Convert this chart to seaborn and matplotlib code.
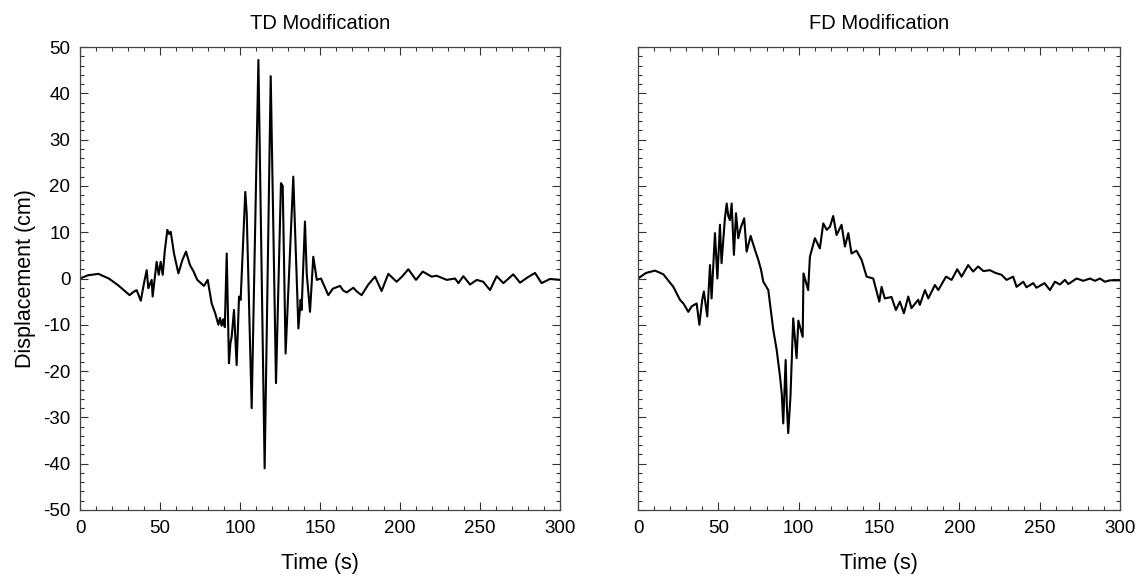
import numpy as np
import pandas as pd
import matplotlib
matplotlib.use("Agg")
import matplotlib.pyplot as plt
import seaborn as sns
from matplotlib.ticker import MultipleLocator

# ---- data ----
td_time = [0, 5, 11.5, 18, 24, 31, 33, 35.4, 38, 40, 41.7, 42.7, 44.8, 45.4, 47.9, 49.2, 50.4,
           51.7, 53, 54.6, 55.8, 56.7, 58.75, 61.5, 64, 66.25, 68.75, 71, 73.3, 77.5, 79.8,
           82.3, 84.5, 86.5, 87.5, 88.5, 89.5, 90.5, 91.7, 93.1, 94, 94.8, 96.25, 97.9, 99.4,
           100.4, 103.3, 104.2, 107.3, 111.5, 115.4, 119.2, 122.5, 125.6, 126.7, 128.5, 133.3,
           136.5, 137.9, 138.5, 140.6, 141.7, 143.75, 145.8, 148, 150.6, 155.2, 158, 162.5,
           164.5, 166.7, 170.8, 173, 176, 180.2, 184.4, 188.5, 192.7, 197.9, 201.5, 205.2,
           210, 214.2, 219.8, 222.9, 229.2, 234.4, 236.5, 239.6, 243.75, 248, 252, 256.25,
           260.4, 264.6, 270.8, 275, 280, 284.4, 288.5, 293.75, 300]
td_disp = [0, 0.7, 1.0, 0, -1.5, -3.6, -3.0, -2.5, -4.8, -1.0, 1.8, -2.1, -0.3, -3.9, 3.6, 0.8, 3.6,
           0.8, 6.0, 10.5, 9.6, 10.1, 5.4, 1.1, 4.0, 5.8, 2.9, 1.5, -0.3, -1.6, -0.3,
           -5.4, -7.5, -10.0, -8.5, -10.2, -8.8, -10.5, 5.4, -18.3, -14.0, -12.6, -6.8, -18.7, -3.9,
           -4.6, 18.7, 14.0, -28.0, 47.2, -41.0, 43.7, -22.6, 20.6, 20.0, -16.2, 22.0,
           -10.8, -4.6, -6.8, 12.3, 1.1, -7.2, 4.7, -0.3, 0.0, -3.6, -2.2, -1.6,
           -2.6, -3.0, -2.0, -2.8, -3.6, -1.3, 0.4, -2.7, 1.0, -0.7, 0.5, 2.0,
           -0.3, 1.5, 0.4, 0.6, -0.3, 0.0, -1.0, 0.5, -1.3, -0.3, -0.7, -2.5,
           0.5, -1.0, 0.9, -0.9, 0.3, 1.2, -1.0, -0.1, -0.3]

fd_time = [0, 5, 10.6, 15.8, 22, 26.1, 28.5, 31.3, 33.5, 36.5, 38.2, 40, 41, 43.1, 44.8, 45.8,
           47.9, 49.4, 51, 52, 54.1, 55.2, 56.2, 57.2, 58.3, 59.7, 61, 62.4, 64, 66.1, 67.6,
           70.1, 72.5, 74.9, 76.5, 78, 81.1, 84.2, 86.3, 88.4, 89.5, 90.4, 91.9, 92.7, 93.5,
           94.9, 96.6, 98.7, 99.8, 102.5, 103, 105.9, 107, 110.1, 113.2, 115.3, 117.5, 119.5,
           121.5, 123.6, 126.7, 128.8, 130.9, 132.9, 136, 139.2, 142.3, 146.4, 150.2, 151.6,
           153.6, 157.8, 160.5, 163, 165.5, 168.2, 170.2, 174.4, 175.4, 178.6, 180.7, 184.8,
           186.9, 191.7, 195.2, 198.7, 201.4, 205.5, 208.6, 211.7, 215, 219, 222.5, 226.3,
           229.4, 233.5, 235.6, 239.8, 241.8, 246, 248, 253, 256.4, 259.5, 262.6, 265.7,
           267.8, 273, 277.2, 281.3, 284.4, 287.5, 290.6, 293.7, 300]
fd_disp = [0, 1.2, 1.7, 0.9, -1.8, -4.6, -5.5, -7.2, -6.0, -5.4, -10.0, -4.5, -2.8, -8.2, 2.9, -4.3,
           9.8, 0.0, 11.6, 3.3, 13.0, 16.2, 13.5, 12.6, 16.2, 5.1, 14.1, 8.7, 11.0, 13.0, 5.8,
           9.2, 6.5, 4.0, 2.0, -0.7, -2.5, -11.1, -15.4, -21.2, -25.0, -31.3, -17.6, -28.0, -33.4,
           -25.5, -8.6, -17.2, -9.1, -12.6, 1.1, -2.5, 4.7, 8.7, 6.5, 11.9, 10.5, 11.2,
           13.5, 9.4, 11.6, 6.9, 9.8, 5.4, 6.0, 4.0, 0.4, 0.0, -5.0, -1.8,
           -4.3, -4.0, -6.8, -5.0, -7.5, -3.9, -6.4, -4.6, -5.7, -2.5, -4.3, -1.4,
           -2.5, 0.4, -0.3, 2.0, 0.4, 2.9, 1.5, 2.6, 1.6, 1.8, 1.2, 0.8,
           -0.3, 0.4, -1.8, -0.7, -1.9, -1.0, -2.0, -1.0, -2.5, -0.7, -1.3, -0.3,
           -1.2, 0.0, -0.5, 0.0, -0.5, 0.0, -0.7, -0.4, -0.4]

titles = ["TD Modification", "FD Modification"]
x_label = "Time (s)"
y_label = "Displacement (cm)"

# ---- plotting ----
sns.set_theme(style="ticks")
plt.rcParams["font.family"] = ["Liberation Sans", "DejaVu Sans"]
plt.rcParams["axes.unicode_minus"] = False
plt.rcParams["text.color"] = "black"
plt.rcParams["axes.labelcolor"] = "black"
plt.rcParams["xtick.color"] = "black"
plt.rcParams["ytick.color"] = "black"

fig = plt.figure(figsize=(11.43, 5.84), dpi=100)
ax1 = fig.add_axes([80 / 1143, 1 - 510 / 584, 480 / 1143, 463 / 584])
ax2 = fig.add_axes([638 / 1143, 1 - 510 / 584, 482 / 1143, 463 / 584])

df_td = pd.DataFrame({"t": td_time, "d": td_disp})
df_fd = pd.DataFrame({"t": fd_time, "d": fd_disp})

for ax, df, title in [(ax1, df_td, titles[0]), (ax2, df_fd, titles[1])]:
    sns.lineplot(data=df, x="t", y="d", ax=ax, color="black", linewidth=1.5,
                 estimator=None, sort=False)
    ax.set_xlim(0, 300)
    ax.set_ylim(-50, 50)
    ax.xaxis.set_major_locator(MultipleLocator(50))
    ax.xaxis.set_minor_locator(MultipleLocator(10))
    ax.yaxis.set_major_locator(MultipleLocator(10))
    ax.yaxis.set_minor_locator(MultipleLocator(2))
    ax.tick_params(which="both", direction="in", top=True, right=True,
                   color="#333333", width=0.8, labelcolor="black")
    ax.tick_params(which="major", length=6, labelsize=13.5, pad=7)
    ax.tick_params(which="minor", length=3)
    for s in ax.spines.values():
        s.set_color("#444444")
        s.set_linewidth(0.9)
    ax.set_title(title, fontsize=14.5, pad=13, color="black")
    ax.set_xlabel(x_label, fontsize=15.5, labelpad=12)
    ax.set_ylabel("")

ax1.set_ylabel(y_label, fontsize=15.5, labelpad=5)
ax2.tick_params(labelleft=False)

fig.savefig("out.png", dpi=100, facecolor="white")
